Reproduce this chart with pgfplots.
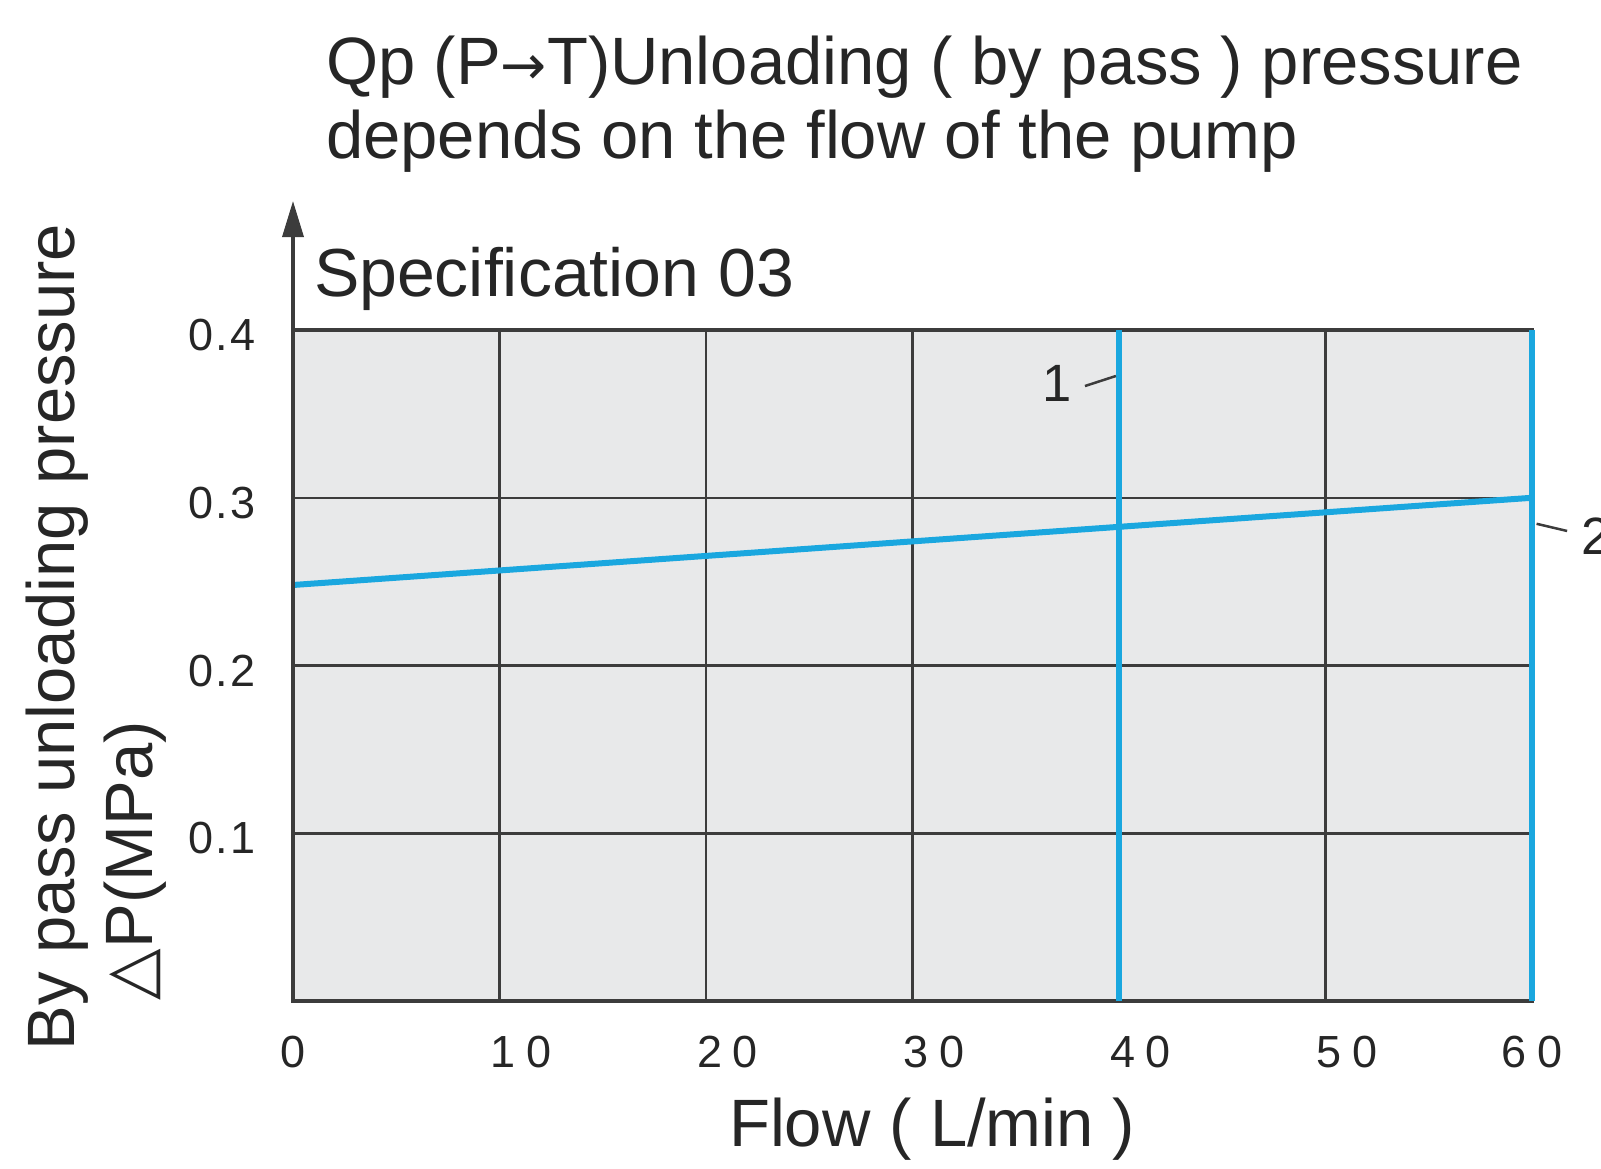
\documentclass[border=0pt]{standalone}
\usepackage{fontspec}
\setmainfont{Liberation Sans}
\newfontfamily\symfont{DejaVu Sans}
\newfontfamily\xtickfont[LetterSpace=24]{Liberation Sans}
\newfontfamily\ytickfont[LetterSpace=6]{Liberation Sans}
\usepackage{pgfplots}
\pgfplotsset{compat=1.18}
\usetikzlibrary{arrows.meta}
\definecolor{bluel}{HTML}{1AA7DF}
\definecolor{bgg}{HTML}{E8E9EA}
\definecolor{gridc}{HTML}{3C3C3C}
\newcommand\tl[1]{\hspace*{8.6pt}#1}
\begin{document}
\begin{tikzpicture}
\begin{axis}[
  at={(0pt,0pt)}, anchor=south west,
  width=247.8pt, height=134.2pt, scale only axis,
  xmin=0, xmax=60, ymin=0, ymax=0.4,
  xtick={0,10,20,30,40,50,60},
  xticklabels={0,\tl{10},\tl{20},\tl{30},\tl{40},\tl{50},60},
  ytick={0.1,0.2,0.3,0.4},
  yticklabels={0.1,0.2,0.3,0.4},
  major tick length=0pt,
  grid=major,
  grid style={gridc, line width=0.5pt},
  axis background/.style={fill=bgg},
  axis line style={gridc, line width=0.7pt},
  xticklabel style={font=\xtickfont\fontsize{9}{10}\selectfont, anchor=base, inner sep=0pt, yshift=-13.2pt, text=black!85},
  yticklabel style={font=\ytickfont\fontsize{9}{10}\selectfont, anchor=east, inner sep=0pt, xshift=-7.2pt, yshift=-1pt, text=black!85},
  clip=false,
]
\addplot[bluel, line width=1.2pt, no marks] coordinates {(0,0.248) (60,0.300)};
\addplot[bluel, line width=1.2pt, no marks] coordinates {(40,0) (40,0.4)};
\addplot[bluel, line width=1.2pt, no marks] coordinates {(60,0) (60,0.4)};
\draw[gridc, line width=0.5pt] (axis cs:38.35,0.3666) -- (axis cs:39.85,0.3726);
\node[font=\fontsize{10.5}{12}\selectfont, inner sep=0pt, text=black!85] at (axis cs:37.0,0.3684) {1};
\draw[gridc, line width=0.5pt] (axis cs:60.22,0.2845) -- (axis cs:61.70,0.2802);
\node[font=\fontsize{10.5}{12}\selectfont, inner sep=0pt, anchor=west, text=black!85] at (axis cs:62.35,0.2772) {2};
\end{axis}
\draw[gridc, line width=0.7pt, -{Triangle[length=7.2pt,width=4.2pt]}] (0pt,0pt) -- (0pt,160pt);
\begin{scope}[every node/.style={inner sep=0pt, font=\fontsize{13.4}{16}\selectfont, text=black!85}]
\node[anchor=base west] at (6.4pt,183.4pt) {Qp (P{\symfont\fontsize{11}{12}\selectfont →}T)Unloading ( by pass ) pressure};
\node[anchor=base west] at (6.4pt,168.6pt) {depends on the flow of the pump};
\node[anchor=base west, font=\fontsize{13.6}{16}\selectfont] at (4.0pt,141pt) {Specification 03};
\node[anchor=base] at (127.8pt,-29pt) {Flow ( L/min )};
\node[anchor=base west, rotate=90] at (-43.7pt,-10.1pt) {By pass unloading pressure};
\node[anchor=base west, rotate=90] at (-28.0pt,0pt) {{\symfont △}P(MPa)};
\end{scope}
\pgfresetboundingbox
\useasboundingbox (-58.6pt,-33.4pt) rectangle (261.6pt,200.2pt);
\end{tikzpicture}
\end{document}
